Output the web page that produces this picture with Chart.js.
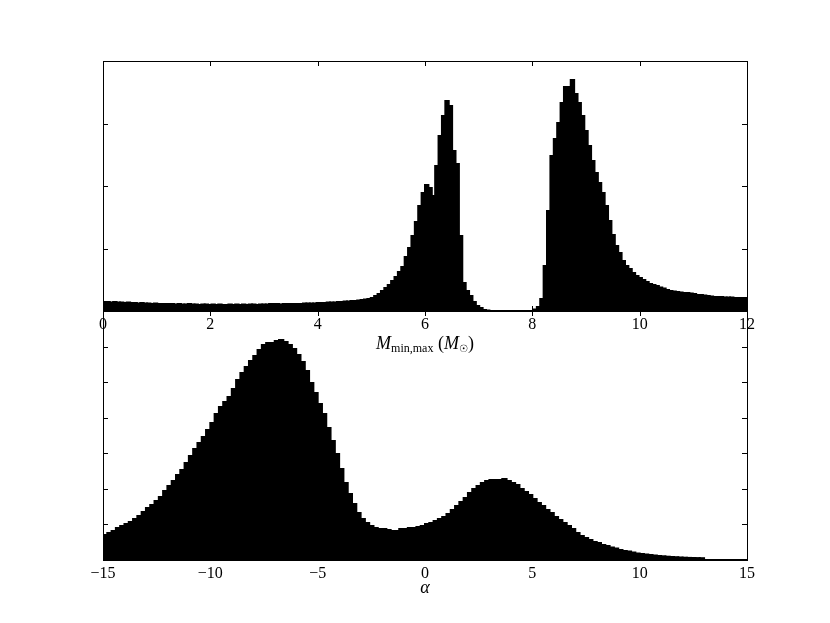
<!DOCTYPE html>
<html>
<head>
<meta charset="utf-8">
<script src="https://cdn.jsdelivr.net/npm/chart.js@4.4.1/dist/chart.umd.min.js"></script>
<style>
  body { margin: 0; background: #fff; }
  #wrap { position: relative; width: 830px; height: 623px; }
  canvas { position: absolute; left: 0; top: 0; }
</style>
</head>
<body>
<div id="wrap">
  <canvas id="alpha-chart" width="830" height="623"></canvas>
  <canvas id="mass-chart" width="830" height="623"></canvas>
</div>
<script>
// top panel: histogram of M_min,max, 190 bins over 0..12
const massRange = [0, 12];
const massCounts = [
  9, 9, 8.5, 9, 8.5, 8.5, 8, 8.5, 8, 8,
  7.5, 8, 7.5, 7.5, 7, 7.5, 7, 7, 7, 7,
  7, 6.5, 7, 6.5, 6.5, 7, 6.5, 6.5, 6, 6.5,
  6.5, 6, 6.5, 6, 6.5, 6, 6, 6.5, 6, 6.5,
  6, 6.5, 6, 6.5, 6.5, 6, 6.5, 6.5, 6.5, 7,
  7, 7, 6.5, 7, 7, 7, 7, 7, 7, 7.5,
  7.5, 7.5, 7.5, 8, 8, 8, 8.5, 8.5, 8.5, 9,
  9, 9.5, 9.5, 10, 10, 10.5, 11, 11.5, 12, 13,
  15, 17, 20, 23, 26, 30, 34, 39, 44, 54,
  63, 75, 89, 105, 118, 126, 123, 115, 145, 175,
  195, 210, 205, 160, 147, 75, 28, 20, 15, 9,
  5, 3, 1, 0.5, 0, 0, 0, 0, 0, 0,
  0, 0, 0, 0, 0, 0, 0, 1.5, 4, 12,
  45, 100, 155, 172, 188, 208, 224, 224, 231, 217,
  208, 195, 180, 165, 150, 138, 128, 118, 105, 90,
  76, 65, 58, 50, 45, 42, 38, 35, 33, 31,
  29, 27, 26, 25, 23.5, 22.5, 21, 20, 19.5, 19,
  18.5, 18, 18, 17.5, 17, 16, 16, 15.5, 15, 14.5,
  14, 14, 14, 13.5, 13.5, 13.5, 13, 13, 13, 13
];

// bottom panel: histogram of alpha, 150 bins over -15..15
const alphaRange = [-15, 15];
const alphaCounts = [
  25, 27, 29, 32, 34, 36, 38, 41, 44, 48,
  52, 55, 59, 63, 69, 74, 79, 85, 90, 97,
  104, 111, 117, 123, 130, 137, 146, 153, 158, 163,
  171, 180, 187, 193, 199, 204, 210, 215, 217, 217,
  219, 220, 218, 215, 211, 205, 198, 189, 177, 167,
  156, 146, 132, 119, 106, 91, 77, 66, 56, 47,
  41, 37, 34, 32, 31, 31, 30, 29, 29, 31,
  31, 32, 32, 33, 34, 36, 37, 39, 41, 43,
  46, 50, 54, 58, 62, 67, 71, 74, 77, 79,
  80, 80, 80, 81, 79, 77, 75, 71, 68, 65,
  61, 57, 54, 50, 47, 43, 40, 37, 34, 31,
  27, 24, 22, 20, 18, 17, 15, 14, 12.5, 11.5,
  10, 9, 8.5, 7.5, 6.5, 6, 5.5, 5, 4.5, 4,
  3.7, 3.3, 3, 2.8, 2.5, 2.3, 2.1, 2, 1.9, 1.8,
  0, 0, 0, 0, 0, 0, 0, 0, 0, 0
];

const FONT = 'Liberation Serif';

// one bar per bin, placed at the bin centre
function binPoints(counts, range) {
  const w = (range[1] - range[0]) / counts.length;
  return counts.map((c, i) => ({ x: range[0] + (i + 0.5) * w, y: c }));
}

// matplotlib-like frame with inward ticks and a drawn axis label
const frameTicks = {
  id: 'frameTicks',
  afterDraw(chart, args, opts) {
    const { ctx, chartArea: a, scales } = chart;
    ctx.save();
    ctx.strokeStyle = '#000';
    ctx.lineWidth = 1;
    ctx.beginPath();
    scales.x.ticks.forEach(t => {
      const px = Math.round(scales.x.getPixelForValue(t.value)) + 0.5;
      ctx.moveTo(px, a.top); ctx.lineTo(px, a.top + 5);
      ctx.moveTo(px, a.bottom); ctx.lineTo(px, a.bottom - 5);
    });
    scales.y.ticks.forEach(t => {
      const py = Math.round(scales.y.getPixelForValue(t.value)) + 0.5;
      ctx.moveTo(a.left, py); ctx.lineTo(a.left + 5, py);
      ctx.moveTo(a.right, py); ctx.lineTo(a.right - 5, py);
    });
    ctx.stroke();
    ctx.strokeRect(a.left + 0.5, a.top + 0.5, a.right - a.left, a.bottom - a.top);

    // axis label made of pieces so the subscripts sit right
    const parts = opts.parts || [];
    let total = 0;
    parts.forEach(p => { ctx.font = p.font; total += ctx.measureText(p.text).width; });
    let x = (a.left + a.right) / 2 - total / 2;
    const base = a.bottom + opts.offset;
    ctx.fillStyle = '#000';
    ctx.textBaseline = 'alphabetic';
    ctx.textAlign = 'left';
    parts.forEach(p => {
      ctx.font = p.font;
      ctx.fillText(p.text, x, base + (p.dy || 0));
      x += ctx.measureText(p.text).width;
    });
    ctx.restore();
  }
};

function makeChart(id, counts, range, tickStep, yMax, yStep, pad, label, fmt) {
  return new Chart(document.getElementById(id), {
    type: 'bar',
    data: {
      datasets: [{
        data: binPoints(counts, range),
        backgroundColor: '#000',
        borderWidth: 0,
        barPercentage: 1,
        categoryPercentage: 1,
        inflateAmount: 1
      }]
    },
    options: {
      responsive: false,
      animation: false,
      devicePixelRatio: 1,
      layout: { padding: pad },
      plugins: {
        legend: { display: false },
        tooltip: { enabled: false },
        frameTicks: label
      },
      scales: {
        x: {
          type: 'linear',
          offset: false,
          min: range[0],
          max: range[1],
          grid: { display: false, drawTicks: false, offset: false },
          border: { display: false },
          afterFit: s => { s.height = 60; },
          ticks: {
            stepSize: tickStep,
            autoSkip: false,
            maxRotation: 0,
            padding: 4,
            color: '#000',
            font: { family: FONT, size: 16 },
            callback: fmt
          }
        },
        y: {
          min: 0,
          max: yMax,
          grid: { display: false, drawTicks: false },
          border: { display: false },
          afterFit: s => { s.width = 0; },
          ticks: { display: false, stepSize: yStep }
        }
      }
    },
    plugins: [frameTicks]
  });
}

makeChart('alpha-chart', alphaCounts, alphaRange, 5, 249, 249 / 7,
  { left: 103, right: 83, top: 311, bottom: 3 },
  { offset: 33, parts: [{ text: 'α', font: 'italic 18px ' + FONT }] },
  v => (v < 0 ? '\u2212' + Math.abs(v) : String(v)));

makeChart('mass-chart', massCounts, massRange, 2, 250, 62.5,
  { left: 103, right: 83, top: 61, bottom: 252 },
  { offset: 38, parts: [
    { text: 'M', font: 'italic 18px ' + FONT },
    { text: 'min,max', font: '12px ' + FONT, dy: 3 },
    { text: ' (', font: '18px ' + FONT },
    { text: 'M', font: 'italic 18px ' + FONT },
    { text: '\u2609', font: '10px DejaVu Sans', dy: 3 },
    { text: ')', font: '18px ' + FONT }
  ] },
  v => String(v));
</script>
</body>
</html>
